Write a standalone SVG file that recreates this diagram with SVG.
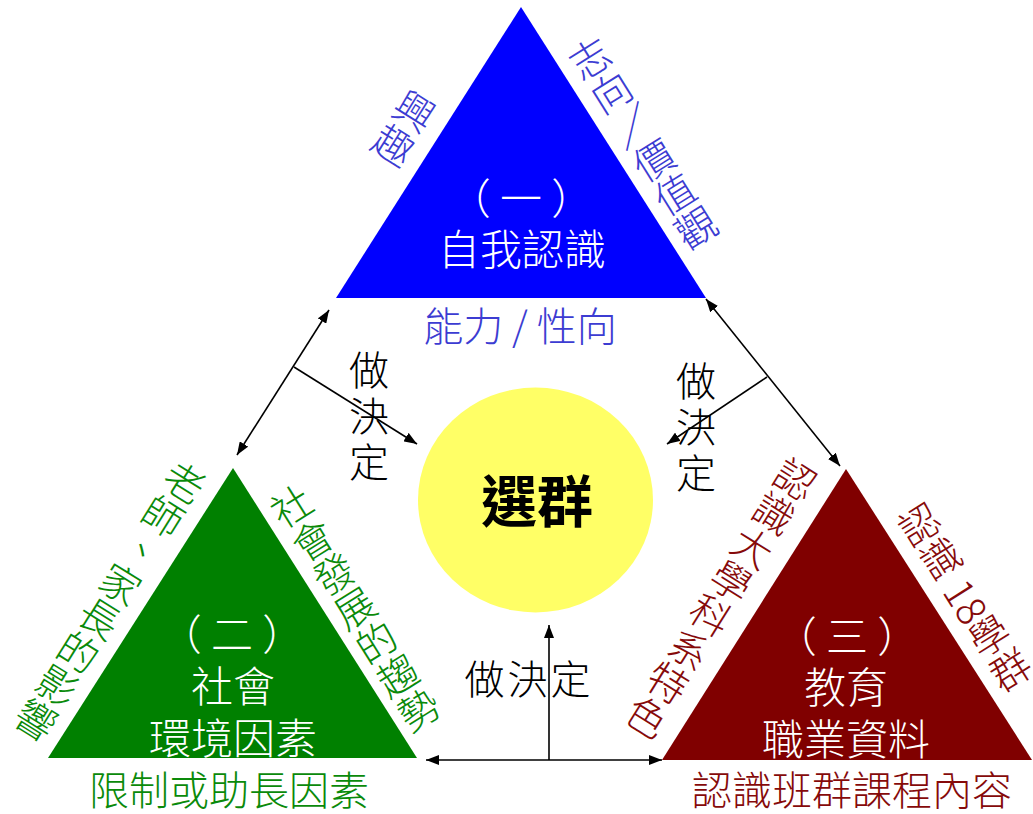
<svg xmlns="http://www.w3.org/2000/svg" width="1033" height="814" viewBox="0 0 1033 814">
<style>
text{font-family:"Noto Sans CJK TC","Noto Sans CJK SC",sans-serif;font-weight:300;}
.w{fill:#FFFFFF;font-size:42px;text-anchor:middle;}
.k{fill:#000000;font-size:40px;text-anchor:middle;}
.v{writing-mode:vertical-rl;text-orientation:mixed;text-anchor:middle;font-size:40px;}
.b{fill:#3C3CD2;}
.g{fill:#0A8A0A;}
.r{fill:#860A0A;}
.ln{stroke:#000000;stroke-width:1.6;fill:none;}
</style>
<defs>
<marker id="ah" markerUnits="userSpaceOnUse" markerWidth="14" markerHeight="10" refX="13" refY="5" orient="auto-start-reverse">
<path d="M0,0 L13,5 L0,10 z" fill="#000000"/>
</marker>
</defs>
<rect width="1033" height="814" fill="#FFFFFF"/>

<g id="self">
<polygon points="521,7 336,298 706,298" fill="#0000FF"/>
<text class="w" x="521" y="214">（ 一 ）</text>
<text class="w" x="522" y="265">自我認識</text>
<text class="v b" x="404" y="128" transform="rotate(32 404 128)">興趣</text>
<text class="v b" x="643" y="143" transform="rotate(-32 643 143)">志向／價值觀</text>
<text class="b" x="520" y="341" font-size="40" text-anchor="middle">能力 / 性向</text>
</g>

<g id="society">
<polygon points="233,468 48,758 417,758" fill="#008000"/>
<text class="w" x="232" y="650">（ 二 ）</text>
<text class="w" x="233" y="702">社會</text>
<text class="w" x="233" y="754">環境因素</text>
<text class="v g" x="110" y="601" transform="rotate(32 110 601)">老師、家長的影響</text>
<text class="v g" x="355" y="608" transform="rotate(-32 355 608)">社會發展的趨勢</text>
<text class="g" x="229" y="805" font-size="40" text-anchor="middle">限制或助長因素</text>
</g>

<g id="education">
<polygon points="846,469 662,760 1032,760" fill="#800000"/>
<text class="w" x="847" y="652">（ 三 ）</text>
<text class="w" x="846" y="703">教育</text>
<text class="w" x="846" y="755">職業資料</text>
<text class="v r" x="721" y="598" transform="rotate(32 721 598)">認識大學科系特色</text>
<text class="v r" x="965" y="597" transform="rotate(-32 965 597)">認識 18學群</text>
<text class="r" x="852" y="805" font-size="40" text-anchor="middle">認識班群課程內容</text>
</g>

<g id="choice">
<ellipse cx="535.5" cy="500" rx="117.5" ry="112.5" fill="#FFFF66"/>
<text x="537" y="522" font-size="56" font-weight="bold" text-anchor="middle" fill="#000000" style="font-weight:bold">選群</text>
</g>

<g id="connectors">
<line class="ln" x1="237" y1="455" x2="329" y2="310" marker-start="url(#ah)" marker-end="url(#ah)"/>
<line class="ln" x1="294" y1="367" x2="417" y2="444" marker-end="url(#ah)"/>
<line class="ln" x1="706" y1="299" x2="840" y2="466" marker-start="url(#ah)" marker-end="url(#ah)"/>
<line class="ln" x1="767" y1="377" x2="667" y2="444" marker-end="url(#ah)"/>
<line class="ln" x1="426" y1="760" x2="662" y2="760" marker-start="url(#ah)" marker-end="url(#ah)"/>
<line class="ln" x1="549" y1="760" x2="549" y2="625" marker-end="url(#ah)"/>
</g>

<g id="labels">
<text class="v" x="369" y="419" fill="#000000" style="letter-spacing:6px">做決定</text>
<text class="v" x="696" y="430" fill="#000000" style="letter-spacing:6px">做決定</text>
<text class="k" x="529" y="694" style="letter-spacing:3px">做決定</text>
</g>
</svg>
